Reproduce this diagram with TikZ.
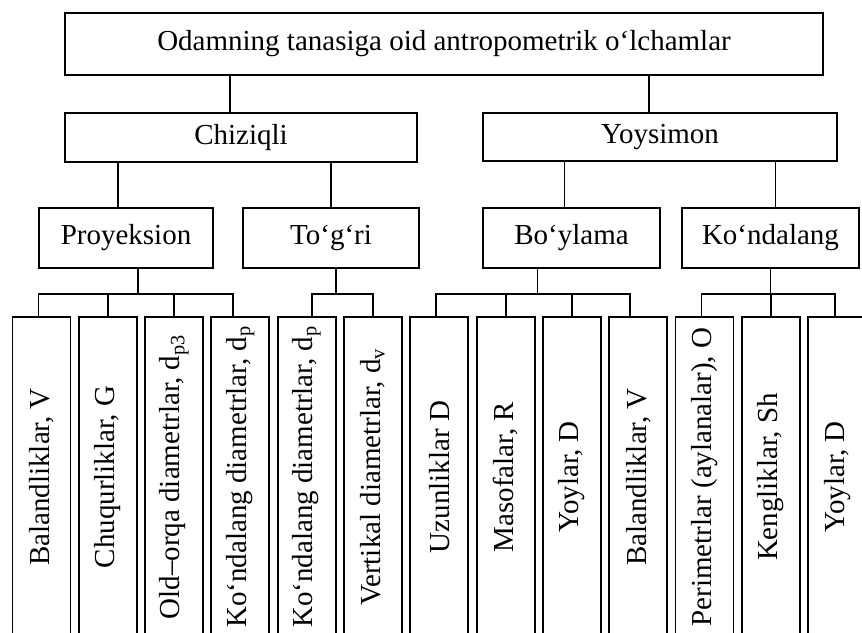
\documentclass[tikz,border=0pt]{standalone}
\usepackage{fontspec}
\usepackage{graphicx}
\setmainfont{Liberation Serif}
\tikzset{
  ant box/.style={draw=black, line width=1.9pt, inner sep=0pt, font=\fontsize{29}{33}\selectfont},
  ant leaf/.style={ant box, minimum width=58pt, minimum height=320pt},
  ant link/.style={draw=black, line width=1.9pt},
}

\begin{document}
\begin{tikzpicture}[x=1pt, y=-1pt]
  % Page: 862 x 632, y runs downwards
  \useasboundingbox (0,0) rectangle (862,632);
  \clip (0,0) rectangle (862,632);

  % Root and first level
  \node[ant box, minimum width=758pt, minimum height=62pt] (root) at (444,44) {Odamning tanasiga oid antropometrik o‘lchamlar};
  \node[ant box, minimum width=352pt, minimum height=49pt] (chiz) at (241,137.5) {Chiziqli};
  \node[ant box, minimum width=354pt, minimum height=48pt] (yoys) at (660,137) {Yoysimon};

  % Second level
  \node[ant box, minimum width=174pt, minimum height=60pt] (proy) at (126,238) {Proyeksion};
  \node[ant box, minimum width=176pt, minimum height=60pt] (togri) at (331,238) {To‘g‘ri};
  \node[ant box, minimum width=177pt, minimum height=60pt] (boyl) at (571.5,238) {Bo‘ylama};
  \node[ant box, minimum width=177pt, minimum height=60pt] (kond) at (770.5,238) {Ko‘ndalang};

  % Leaves (they run past the bottom edge)
  \foreach \i/\txt in {0/{Balandliklar, V}, 1/{Chuqurliklar, G}, 2/{Old--orqa diametrlar, d\textsubscript{p3}},
      3/{Ko‘ndalang diametrlar, d\textsubscript{p}}, 4/{Ko‘ndalang diametrlar, d\textsubscript{p}},
      5/{Vertikal diametrlar, d\textsubscript{v}}, 6/{Uzunliklar D}, 7/{Masofalar, R}, 8/{Yoylar, D},
      9/{Balandliklar, V}, 10/{Perimetrlar (aylanalar), O}, 11/{Kengliklar, Sh}, 12/{Yoylar, D}} {
    \node[ant leaf] (leaf\i) at ({41.5+66.3*\i},477) {\rotatebox{90}{\txt}};
  }

  % Stems between the upper levels
  \draw[ant link] ([xshift=-11pt]chiz.north) -- ([xshift=-11pt]chiz.north |- root.south);
  \draw[ant link] ([xshift=-11pt]yoys.north) -- ([xshift=-11pt]yoys.north |- root.south);
  \draw[ant link] ([xshift=-8pt]proy.north) -- ([xshift=-8pt]proy.north |- chiz.south);
  \draw[ant link] (togri.north) -- (togri.north |- chiz.south);
  \draw[ant link] ([xshift=-7pt]boyl.north) -- ([xshift=-7pt]boyl.north |- yoys.south);
  \draw[ant link] ([xshift=5pt]kond.north) -- ([xshift=5pt]kond.north |- yoys.south);

  % Forks down to the leaves
  \draw[ant link] ([xshift=12pt]proy.south) -- ++(0,25) coordinate (proyfork);
  \draw[ant link] ([xshift=-3pt]leaf0.north) |- (proyfork) -| ([xshift=-7pt]leaf3.north);
  \foreach \i in {1,2} {
    \draw[ant link] (leaf\i.north) -- (leaf\i.north |- proyfork);
  }

  \draw[ant link] ([xshift=5pt]togri.south) -- ++(0,25) coordinate (togrifork);
  \draw[ant link] ([xshift=5pt]leaf4.north) |- (togrifork) -| (leaf5.north);

  \draw[ant link] ([xshift=-34pt]boyl.south) -- ++(0,25) coordinate (boylfork);
  \draw[ant link] ([xshift=-3pt]leaf6.north) |- (boylfork) -| ([xshift=-8pt]leaf9.north);
  \foreach \i in {7,8} {
    \draw[ant link] (leaf\i.north) -- (leaf\i.north |- boylfork);
  }

  \draw[ant link] (kond.south) -- ++(0,25) coordinate (kondfork);
  \draw[ant link] ([xshift=-3pt]leaf10.north) |- (kondfork) -| ([xshift=-2pt]leaf12.north);
  \draw[ant link] (leaf11.north) -- (leaf11.north |- kondfork);
\end{tikzpicture}
\end{document}
